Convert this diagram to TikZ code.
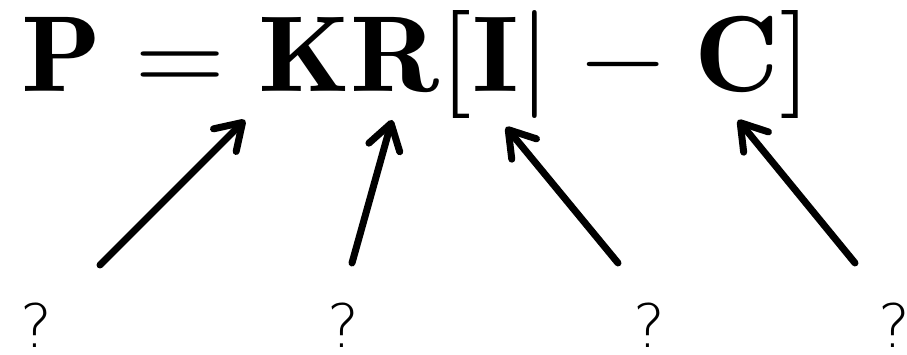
\documentclass[tikz,border=0pt]{standalone}
\usepackage{amsmath,amssymb}
\usepackage{fontspec}
\newfontfamily\qfont{DejaVu Sans ExtraLight}
\usetikzlibrary{arrows.meta}

\begin{document}
\begin{tikzpicture}[x=1pt,y=1pt]
\tikzset{
  formula/.style={inner sep=0pt,anchor=base west},
  qmark/.style={inner sep=0pt,anchor=base,font=\qfont\fontsize{60}{62}\selectfont},
  pointer/.style={-{Straight Barb[length=25pt,width=32pt,round]},line width=7pt,line cap=round}
}
\useasboundingbox (0,0) rectangle (907,355);
\node[formula] (n_eq) at (21,263) {\scalebox{11.75}[10.8]{$\mathbf{P}=\mathbf{K}\mathbf{R}[\mathbf{I}|-\mathbf{C}]$}};
\node[qmark] (n_q0) at (36,7) {?};
\node[qmark] (n_q1) at (343,7) {?};
\node[qmark] (n_q2) at (649,7) {?};
\node[qmark] (n_q3) at (894,7) {?};
\coordinate (t_K) at (100,90);
\coordinate (h_K) at (245,235);
\coordinate (t_R) at (352,92);
\coordinate (h_R) at (392,235);
\coordinate (t_I) at (618,92);
\coordinate (h_I) at (506,228);
\coordinate (t_C) at (855,92);
\coordinate (h_C) at (738,235);
\draw[pointer] (t_K) -- (h_K);
\draw[pointer] (t_R) -- (h_R);
\draw[pointer] (t_I) -- (h_I);
\draw[pointer] (t_C) -- (h_C);
\end{tikzpicture}
\end{document}
